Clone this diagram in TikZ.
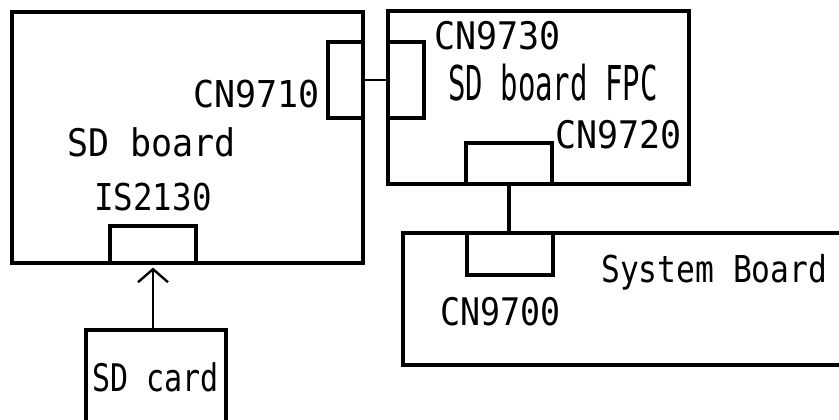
\documentclass[tikz,border=0pt]{standalone}
\usepackage{fontspec}
\usepackage{graphicx}
\newfontfamily\dmono{DejaVu Sans Mono}
\usetikzlibrary{arrows.meta}
\begin{document}
\begin{tikzpicture}[x=1pt,y=-1pt,
  board/.style={draw=black, line width=3.4pt, rectangle, inner sep=0pt},
  conn/.style={draw=black, line width=3.2pt, rectangle, inner sep=0pt},
  lbl/.style={anchor=base west, inner sep=0pt, font=\dmono\fontsize{10pt}{12pt}\selectfont},
  thinlink/.style={draw=black, line width=1.8pt},
  thicklink/.style={draw=black, line width=3.2pt},
  insert/.style={draw=black, line width=2.4pt, -{Straight Barb[length=13pt,width=30pt,line width=2.4pt]}}
  ]
\useasboundingbox (0,0) rectangle (839,420);
\fill[white] (0,0) rectangle (839,420);
\clip (0,0) rectangle (839,420);
% boards
\node[board, minimum width=351pt, minimum height=251pt] (sdb) at (187.5,137.5) {};
\node[board, minimum width=301pt, minimum height=173pt] (fpc) at (538.5,97.5) {};
\node[board, minimum width=460pt, minimum height=132pt] (sys) at (633,299) {};
\node[board, minimum width=140pt, minimum height=120pt] (card) at (156,390) {};
% connectors
\node[conn, minimum width=35pt, minimum height=76pt] (cn9710) at (345.5,80) {};
\node[conn, minimum width=36pt, minimum height=76pt] (cn9730) at (406,80) {};
\node[conn, minimum width=86pt, minimum height=41pt] (cn9720) at (509,163.5) {};
\node[conn, minimum width=86pt, minimum height=42pt] (cn9700) at (510,254) {};
\node[conn, minimum width=86pt, minimum height=37pt] (is2130) at (153,244.5) {};
% links
\draw[thinlink] (cn9710.east) -- (cn9730.west);
\draw[thicklink] (cn9720.south) -- (cn9720.south |- cn9700.north);
\draw[insert, shorten >=3pt] (card.north -| is2130.south) -- (is2130.south);
% labels
\node[lbl] (tcn9710) at (193,107) {\scalebox{3.5}[3.7]{CN9710}};
\node[lbl] (tsdb) at (67,157) {\scalebox{3.5}[3.8]{SD board}};
\node[lbl] (tis) at (94,210) {\scalebox{3.25}[3.7]{IS2130}};
\node[lbl] (tcn9730) at (434,50) {\scalebox{3.5}[3.8]{CN9730}};
\node[lbl] (tfpc) at (448,100) {\scalebox{2.9}[4.8]{SD board FPC}};
\node[lbl] (tcn9720) at (555,148) {\scalebox{3.5}[3.8]{CN9720}};
\node[lbl] (tsys) at (601,282) {\scalebox{3.13}[3.7]{System Board}};
\node[lbl] (tcn9700) at (440,325) {\scalebox{3.33}[3.8]{CN9700}};
\node[lbl] (tcard) at (92,391) {\scalebox{3.0}[3.8]{SD card}};
\end{tikzpicture}
\end{document}
